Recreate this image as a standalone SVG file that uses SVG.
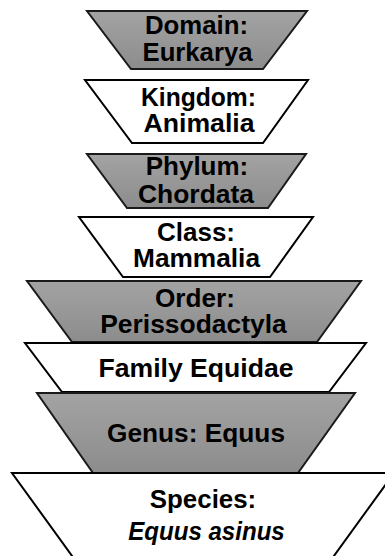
<svg xmlns="http://www.w3.org/2000/svg" width="385" height="556" viewBox="0 0 385 556">
<defs>
<linearGradient id="g" x1="0" y1="0" x2="0" y2="1">
<stop offset="0" stop-color="#a3a3a3"/>
<stop offset="1" stop-color="#8c8c8c"/>
</linearGradient>
<style>
.gray{fill:url(#g);stroke:#1a1a1a;stroke-width:2;stroke-linejoin:miter}
.white{fill:#ffffff;stroke:#000000;stroke-width:2;stroke-linejoin:miter}
text{font-family:"Liberation Sans",Arial,Helvetica,sans-serif;font-weight:bold;font-size:25px;fill:#000;text-anchor:middle}
.it{font-style:italic}
</style>
</defs>
<rect width="385" height="556" fill="#ffffff"/>
<g id="domain">
<polygon class="gray" points="87,11 307,11 263,69 131,69"/>
<text x="196.5" y="34" textLength="103" lengthAdjust="spacingAndGlyphs">Domain:</text>
<text x="197.5" y="61" textLength="110" lengthAdjust="spacingAndGlyphs">Eurkarya</text>
</g>
<g id="kingdom">
<polygon class="white" points="85,80 308,80 263,143 132,143"/>
<text x="198.5" y="106" textLength="115" lengthAdjust="spacingAndGlyphs">Kingdom:</text>
<text x="199" y="132" textLength="111" lengthAdjust="spacingAndGlyphs">Animalia</text>
</g>
<g id="phylum">
<polygon class="gray" points="87,154 306,154 268,208 127,208"/>
<text x="197" y="175" textLength="102.5" lengthAdjust="spacingAndGlyphs">Phylum:</text>
<text x="196" y="203" textLength="116" lengthAdjust="spacingAndGlyphs">Chordata</text>
</g>
<g id="class">
<polygon class="white" points="79,217 313,217 270,277 123,277"/>
<text x="196" y="241" textLength="78" lengthAdjust="spacingAndGlyphs">Class:</text>
<text x="196.5" y="267" textLength="127" lengthAdjust="spacingAndGlyphs">Mammalia</text>
</g>
<g id="order">
<polygon class="gray" points="27,281 361,281 317,342 72,342"/>
<text x="195" y="307" textLength="80" lengthAdjust="spacingAndGlyphs">Order:</text>
<text x="193.5" y="333" textLength="186.5" lengthAdjust="spacingAndGlyphs">Perissodactyla</text>
</g>
<g id="family">
<polygon class="white" points="25,343 366,343 329,392 62,392"/>
<text x="196" y="377" textLength="195" lengthAdjust="spacingAndGlyphs">Family Equidae</text>
</g>
<g id="genus">
<polygon class="gray" points="37,393 355,393 298,473 93,473"/>
<text x="196" y="442" textLength="178" lengthAdjust="spacingAndGlyphs">Genus: Equus</text>
</g>
<g id="species">
<polygon class="white" points="12,473 394,473 331,560 75,560"/>
<text x="203" y="508" textLength="106.5" lengthAdjust="spacingAndGlyphs">Species:</text>
<text class="it" x="206.5" y="540" textLength="156.5" lengthAdjust="spacingAndGlyphs">Equus asinus</text>
</g>
<g id="connectors"/>
</svg>
